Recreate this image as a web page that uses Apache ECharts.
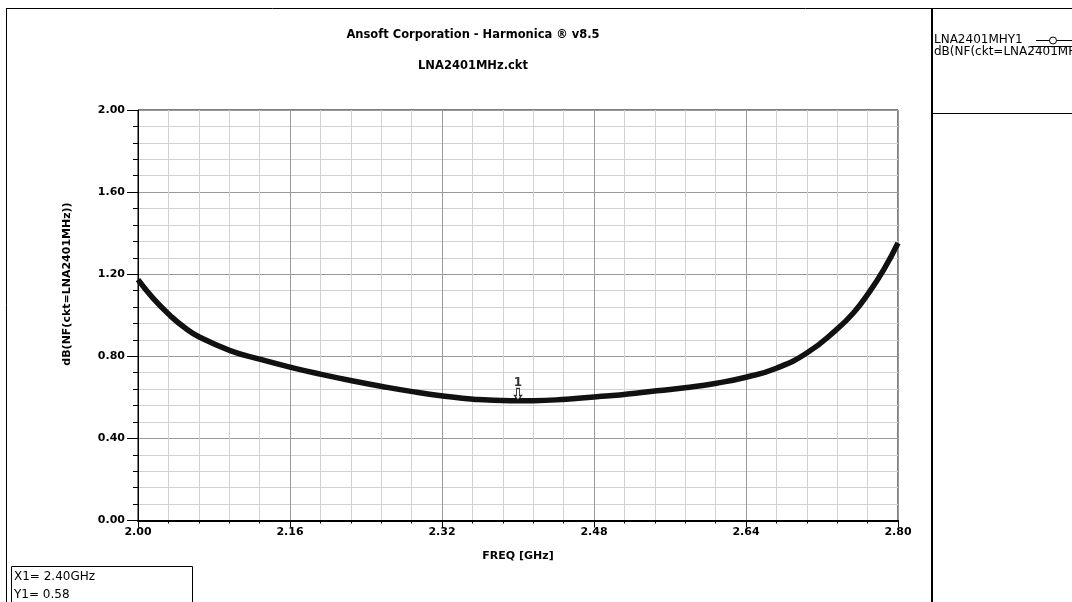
<!DOCTYPE html>
<html>
<head>
<meta charset="utf-8">
<script src="https://cdn.jsdelivr.net/npm/echarts@6/dist/echarts.min.js"></script>
<style>
html,body{margin:0;padding:0;background:#fff;}
#c{width:1072px;height:602px;}
</style>
</head>
<body>
<div id="c"></div>
<script>
// ---- data ----
const freqGHz = [2.000, 2.016, 2.034, 2.049, 2.065, 2.097, 2.128, 2.162, 2.193, 2.225, 2.257, 2.289, 2.321, 2.353, 2.392, 2.416, 2.451, 2.483, 2.507, 2.528, 2.546, 2.578, 2.609, 2.641, 2.672, 2.704, 2.735, 2.753, 2.769, 2.785, 2.800];
const nfdB    = [1.173, 1.082, 0.998, 0.940, 0.893, 0.828, 0.786, 0.745, 0.712, 0.681, 0.653, 0.628, 0.607, 0.591, 0.584, 0.584, 0.591, 0.603, 0.612, 0.622, 0.632, 0.648, 0.669, 0.699, 0.742, 0.816, 0.929, 1.011, 1.108, 1.222, 1.352];
const xStart = 2.00, xEnd = 2.80, xStep = 0.16;
const yStart = 0.00, yEnd = 2.00, yStep = 0.40;
const markerX = [2.40];
const markerY = [0.58];
const markerNames = ['1'];
const titleText = 'Ansoft Corporation - Harmonica \u00AE v8.5';
const subtitleText = 'LNA2401MHz.ckt';
const xName = 'FREQ [GHz]';
const yName = 'dB(NF(ckt=LNA2401MHz))';
const legendLines = ['LNA2401MHY1', 'dB(NF(ckt=LNA2401MHz))'];
const readout = ['X1= 2.40GHz', 'Y1= 0.58'];

// x axis is expressed as offset from xStart so ticks start at xStart
const lineData = freqGHz.map((f, i) => [f - xStart, nfdB[i]]);
const markData = markerX.map((f, i) => ({ value: [f - xStart, markerY[i]], name: markerNames[i] }));

const BOLD = 'DejaVu Sans';
const chart = echarts.init(document.getElementById('c'), null, { renderer: 'canvas' });
chart.setOption({
  animation: false,
  backgroundColor: '#fff',
  title: [
    { text: titleText, left: 468, top: 24, textAlign: 'center',
      textStyle: { fontFamily: BOLD, fontWeight: 'bold', fontSize: 11.5, color: '#000' } },
    { text: subtitleText, left: 468, top: 55, textAlign: 'center',
      textStyle: { fontFamily: BOLD, fontWeight: 'bold', fontSize: 11.5, color: '#000' } }
  ],
  grid: { left: 138, right: 174, top: 110, bottom: 81.5, show: true, borderColor: '#000', borderWidth: 1, backgroundColor: 'transparent' },
  xAxis: {
    type: 'value', min: 0, max: xEnd - xStart, interval: xStep,
    name: xName, nameLocation: 'middle', nameGap: 30,
    nameTextStyle: { fontFamily: BOLD, fontWeight: 'bold', fontSize: 11, color: '#000' },
    axisLine: { show: true, lineStyle: { color: '#000', width: 2 } },
    axisTick: { show: true, length: 7, lineStyle: { color: '#000', width: 1 } },
    minorTick: { show: true, splitNumber: 5, length: 3, lineStyle: { color: '#000', width: 1 } },
    axisLabel: { margin: 6, fontFamily: BOLD, fontWeight: 'bold', fontSize: 11, color: '#000',
      formatter: v => (v + xStart).toFixed(2) },
    splitLine: { show: true, lineStyle: { color: '#9a9a9a', width: 1 } },
    minorSplitLine: { show: true, lineStyle: { color: '#d2d2d2', width: 1 } }
  },
  yAxis: {
    type: 'value', min: yStart, max: yEnd, interval: yStep,
    axisLine: { show: true, lineStyle: { color: '#000', width: 1 } },
    axisTick: { show: true, length: 11, lineStyle: { color: '#000', width: 1 } },
    minorTick: { show: true, splitNumber: 5, length: 5, lineStyle: { color: '#000', width: 1 } },
    axisLabel: { margin: 13, fontFamily: BOLD, fontWeight: 'bold', fontSize: 11, color: '#000',
      formatter: v => v.toFixed(2) },
    splitLine: { show: true, lineStyle: { color: '#9a9a9a', width: 1 } },
    minorSplitLine: { show: true, lineStyle: { color: '#d2d2d2', width: 1 } }
  },
  series: [
    {
      type: 'line', data: lineData, smooth: true, showSymbol: false, symbol: 'none',
      lineStyle: { color: '#111', width: 5.5 }, z: 3
    },
    {
      type: 'scatter', data: markData, z: 5,
      symbol: 'path://M2,0 L5,0 L5,7 L7,7 L3.5,12 L0,7 L2,7 Z',
      symbolSize: [7, 12], symbolOffset: [0, -7],
      itemStyle: { color: '#fff', borderColor: '#000', borderWidth: 1.2 },
      label: { show: true, position: 'top', distance: -1, formatter: p => p.name,
        fontFamily: BOLD, fontWeight: 'bold', fontSize: 12, color: '#000' }
    }
  ],
  graphic: [
    // outer frame
    { type: 'line', shape: { x1: 6.5, y1: 8.5, x2: 6.5, y2: 602 }, style: { stroke: '#000', lineWidth: 1 } },
    { type: 'line', shape: { x1: 6, y1: 8.5, x2: 1072, y2: 8.5 }, style: { stroke: '#000', lineWidth: 1 } },
    { type: 'line', shape: { x1: 932, y1: 8, x2: 932, y2: 602 }, style: { stroke: '#000', lineWidth: 2 } },
    { type: 'line', shape: { x1: 932, y1: 113.5, x2: 1072, y2: 113.5 }, style: { stroke: '#000', lineWidth: 1 } },
    // y axis title
    { type: 'text', x: 67, y: 284, rotation: Math.PI / 2,
      style: { text: yName, fontFamily: BOLD, fontWeight: 'bold', fontSize: 11, fill: '#000', textAlign: 'center', textVerticalAlign: 'middle' } },
    // legend
    { type: 'text', x: 934, y: 40, style: { text: legendLines[0], fontFamily: 'DejaVu Sans', fontSize: 12, fill: '#000', textVerticalAlign: 'middle' } },
    { type: 'text', x: 934, y: 52, style: { text: legendLines[1], fontFamily: 'DejaVu Sans', fontSize: 12, fill: '#000', textVerticalAlign: 'middle' } },
    { type: 'line', shape: { x1: 1036, y1: 40.5, x2: 1072, y2: 40.5 }, style: { stroke: '#000', lineWidth: 1 } },
    { type: 'circle', shape: { cx: 1053, cy: 40.5, r: 3.5 }, style: { fill: '#fff', stroke: '#000', lineWidth: 1 } },
    { type: 'line', shape: { x1: 1030, y1: 46.5, x2: 1072, y2: 46.5 }, style: { stroke: '#000', lineWidth: 1 } },
    // readout box
    { type: 'rect', shape: { x: 11.5, y: 566.5, width: 181, height: 50 }, style: { fill: '#fff', stroke: '#000', lineWidth: 1 } },
    { type: 'text', x: 14, y: 577, style: { text: readout[0], fontFamily: 'DejaVu Sans', fontSize: 12, fill: '#000', textVerticalAlign: 'middle' } },
    { type: 'text', x: 14, y: 595, style: { text: readout[1], fontFamily: 'DejaVu Sans', fontSize: 12, fill: '#000', textVerticalAlign: 'middle' } }
  ]
});
</script>
</body>
</html>
